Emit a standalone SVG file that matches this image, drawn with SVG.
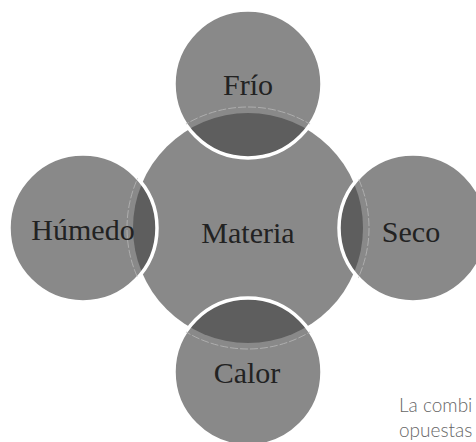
<svg xmlns="http://www.w3.org/2000/svg" width="476" height="442" viewBox="0 0 476 442">
<style>
.c{fill:#898989}
.lens{fill:#5e5e5e}
.edge{fill:none;stroke:#ffffff;stroke-width:3.5}
.ring{fill:none;stroke:#b8b8b8;stroke-width:0.8;stroke-dasharray:8 2}
.t{font-family:"Liberation Serif","Times New Roman",serif;font-size:30px;fill:#222222;text-anchor:middle}
.note{font-family:Lato,"Liberation Sans",sans-serif;font-size:19px;font-weight:300;fill:#666666}
</style>
<defs>
<clipPath id="cc"><circle cx="248" cy="228" r="115"/></clipPath>
<clipPath id="sats">
<circle cx="248" cy="84" r="74"/>
<circle cx="413" cy="228" r="74"/>
<circle cx="83" cy="228" r="74"/>
<circle cx="248" cy="372" r="74"/>
</clipPath>
</defs>
<g id="materia">
<circle class="c" cx="248" cy="228" r="115"/>
</g>
<g id="frio">
<circle class="c" cx="248" cy="84" r="74"/>
<circle class="lens" cx="248" cy="84" r="74" clip-path="url(#cc)"/>
<circle class="edge" cx="248" cy="84" r="74"/>
</g>
<g id="seco">
<circle class="c" cx="413" cy="228" r="74"/>
<circle class="lens" cx="413" cy="228" r="74" clip-path="url(#cc)"/>
<circle class="edge" cx="413" cy="228" r="74"/>
</g>
<g id="humedo">
<circle class="c" cx="83" cy="228" r="74"/>
<circle class="lens" cx="83" cy="228" r="74" clip-path="url(#cc)"/>
<circle class="edge" cx="83" cy="228" r="74"/>
</g>
<g id="calor">
<circle class="c" cx="248" cy="372" r="74"/>
<circle class="lens" cx="248" cy="372" r="74" clip-path="url(#cc)"/>
<circle class="edge" cx="248" cy="372" r="74"/>
</g>
<g id="connectors">
<circle class="ring" cx="248" cy="228" r="121" clip-path="url(#sats)"/>
</g>
<g id="labels">
<text class="t" x="248" y="95">Frío</text>
<text class="t" x="248" y="243">Materia</text>
<text class="t" x="411" y="242">Seco</text>
<text class="t" x="83" y="240">Húmedo</text>
<text class="t" x="247" y="383">Calor</text>
</g>
<text class="note" x="399" y="412">La combi</text>
<text class="note" x="399" y="437">opuestas</text>
</svg>
